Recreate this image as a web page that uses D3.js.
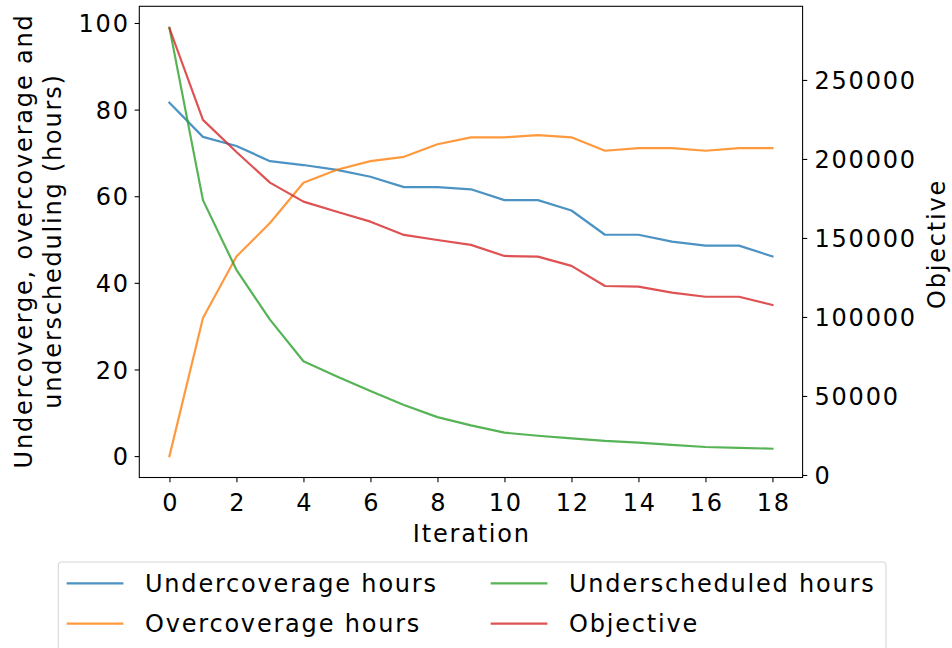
<!DOCTYPE html>
<html>
<head>
<meta charset="utf-8">
<script src="https://cdn.jsdelivr.net/npm/d3@7"></script>
<style>
  html, body { margin: 0; padding: 0; background: #fff; }
  svg { display: block; font-family: "DejaVu Sans", sans-serif; }
</style>
</head>
<body>
<svg id="chart" width="952" height="648"></svg>
<script>
// Iteration numbers on the x axis
const iterations = [0, 1, 2, 3, 4, 5, 6, 7, 8, 9, 10, 11, 12, 13, 14, 15, 16, 17, 18];

// Hours (left axis)
const undercoverage = [81.6, 73.7, 71.6, 68.1, 67.2, 66.1, 64.5, 62.1, 62.1, 61.6, 59.1, 59.1, 56.7, 51.1, 51.1, 49.5, 48.6, 48.6, 46.1];
const overcoverage  = [0.0, 31.9, 46.1, 53.8, 63.1, 66.1, 68.1, 69.1, 72.0, 73.6, 73.6, 74.1, 73.6, 70.5, 71.1, 71.1, 70.5, 71.1, 71.1];
const underscheduled = [98.9, 59.1, 43.0, 31.5, 21.9, 18.4, 15.0, 11.8, 9.0, 7.1, 5.4, 4.7, 4.1, 3.5, 3.1, 2.6, 2.1, 1.9, 1.7];

// Objective value (right axis)
const objective = [282700, 224700, 204400, 185000, 173000, 166600, 160300, 151900, 148700, 145600, 138600, 138200, 132300, 119600, 119200, 115400, 112800, 112800, 107600];

// Tick values
const xTicks = [0, 2, 4, 6, 8, 10, 12, 14, 16, 18];
const leftTicks = [0, 20, 40, 60, 80, 100];
const rightTicks = [0, 50000, 100000, 150000, 200000, 250000];

// Legend entries
const legendLabels = ["Undercoverage hours", "Overcoverage hours", "Underscheduled hours", "Objective"];

const colors = {
  under: "#1f77b4",
  over: "#ff7f0e",
  sched: "#2ca02c",
  obj: "#d62728"
};

const svg = d3.select("#chart");
const FONT = 24;
const LS = 1.8; // letter spacing, px
const plot = { left: 139.3, right: 802.6, top: 6.3, bottom: 477.5 };

svg.style("letter-spacing", LS + "px");

const x = d3.scaleLinear().domain([-0.9, 18.9]).range([plot.left, plot.right]);
const yL = d3.scaleLinear().domain([-4.945, 103.85]).range([plot.bottom, plot.top]);
const yR = d3.scaleLinear().domain([-1600, 296600]).range([plot.bottom, plot.top]);

const tickLen = 4.67, tickPad = 4.67;

function styleAxis(g) {
  g.select(".domain").remove();
  g.selectAll(".tick line").attr("stroke", "#000").attr("stroke-width", 1.07);
  g.selectAll(".tick text").attr("fill", "#000").attr("font-size", FONT)
    .attr("font-family", "DejaVu Sans, sans-serif");
}

// x axis
const gx = svg.append("g")
  .attr("transform", `translate(0,${plot.bottom})`)
  .call(d3.axisBottom(x).tickValues(xTicks).tickFormat(d3.format("d")).tickSize(tickLen).tickPadding(tickPad));
styleAxis(gx);
gx.selectAll(".tick text").attr("y", 33.5).attr("dy", 0).attr("dx", LS / 2);

// left axis
const gl = svg.append("g")
  .attr("transform", `translate(${plot.left},0)`)
  .call(d3.axisLeft(yL).tickValues(leftTicks).tickFormat(d3.format("d")).tickSize(tickLen).tickPadding(tickPad + 2));
styleAxis(gl);
gl.selectAll(".tick text").attr("dy", "0.36em").attr("dx", LS);

// right axis
const gr = svg.append("g")
  .attr("transform", `translate(${plot.right},0)`)
  .call(d3.axisRight(yR).tickValues(rightTicks).tickFormat(d3.format("d")).tickSize(tickLen).tickPadding(tickPad + 2.5));
styleAxis(gr);
gr.selectAll(".tick text").attr("dy", "0.36em");

// series lines
const lineL = d => d3.line().x((v, i) => x(iterations[i])).y(v => yL(v))(d);
const lineR = d => d3.line().x((v, i) => x(iterations[i])).y(v => yR(v))(d);

const series = [
  { path: lineL(undercoverage), color: colors.under },
  { path: lineL(overcoverage), color: colors.over },
  { path: lineL(underscheduled), color: colors.sched },
  { path: lineR(objective), color: colors.obj }
];

svg.append("clipPath").attr("id", "plotClip")
  .append("rect").attr("x", plot.left).attr("y", plot.top)
  .attr("width", plot.right - plot.left).attr("height", plot.bottom - plot.top);

svg.append("g").attr("clip-path", "url(#plotClip)")
  .selectAll("path").data(series).join("path")
  .attr("d", d => d.path)
  .attr("fill", "none")
  .attr("stroke", d => d.color)
  .attr("stroke-opacity", 0.8)
  .attr("stroke-width", 2.2)
  .attr("stroke-linejoin", "round")
  .attr("stroke-linecap", "square");

// frame
svg.append("rect")
  .attr("x", plot.left).attr("y", plot.top)
  .attr("width", plot.right - plot.left).attr("height", plot.bottom - plot.top)
  .attr("fill", "none").attr("stroke", "#000").attr("stroke-width", 1.07);

// axis titles
svg.append("text")
  .attr("x", (plot.left + plot.right) / 2).attr("y", 542).attr("dx", LS / 2)
  .attr("text-anchor", "middle").attr("font-size", FONT).attr("fill", "#000")
  .text("Iteration");

const midY = (plot.top + plot.bottom) / 2;
const leftTitle = ["Undercoverge, overcoverage and", "underscheduling (hours)"];
const leftBase = [32, 61];
leftTitle.forEach((t, i) => {
  svg.append("text")
    .attr("transform", `translate(${leftBase[i]},${midY}) rotate(-90)`)
    .attr("dx", LS / 2)
    .attr("text-anchor", "middle").attr("font-size", FONT).attr("fill", "#000")
    .text(t);
});

svg.append("text")
  .attr("transform", `translate(945,${midY + 3}) rotate(-90)`)
  .attr("dx", LS / 2)
  .attr("text-anchor", "middle").attr("font-size", FONT).attr("fill", "#000")
  .text("Objective");

// legend
const legend = svg.append("g");
legend.append("rect")
  .attr("x", 58.3).attr("y", 562).attr("width", 827.7).attr("height", 110)
  .attr("rx", 3.5).attr("ry", 3.5)
  .attr("fill", "#fff").attr("fill-opacity", 0.8)
  .attr("stroke", "#cccccc").attr("stroke-opacity", 0.8).attr("stroke-width", 1.07);

const legendItems = [
  { label: legendLabels[0], color: colors.under, col: 0, row: 0 },
  { label: legendLabels[1], color: colors.over, col: 0, row: 1 },
  { label: legendLabels[2], color: colors.sched, col: 1, row: 0 },
  { label: legendLabels[3], color: colors.obj, col: 1, row: 1 }
];
const colX = [66.7, 490.7];
const rowY = [583.4, 623.7];
const handleLen = 56.7, textGap = 21.6;

const li = legend.selectAll("g.item").data(legendItems).join("g")
  .attr("class", "item")
  .attr("transform", d => `translate(${colX[d.col]},${rowY[d.row]})`);
li.append("line")
  .attr("x1", 0).attr("x2", handleLen).attr("y1", 0).attr("y2", 0)
  .attr("stroke", d => d.color).attr("stroke-opacity", 0.8).attr("stroke-width", 2.2);
li.append("text")
  .attr("x", handleLen + textGap).attr("y", 0).attr("dy", "0.36em")
  .attr("font-size", FONT).attr("fill", "#000")
  .text(d => d.label);
</script>
</body>
</html>
